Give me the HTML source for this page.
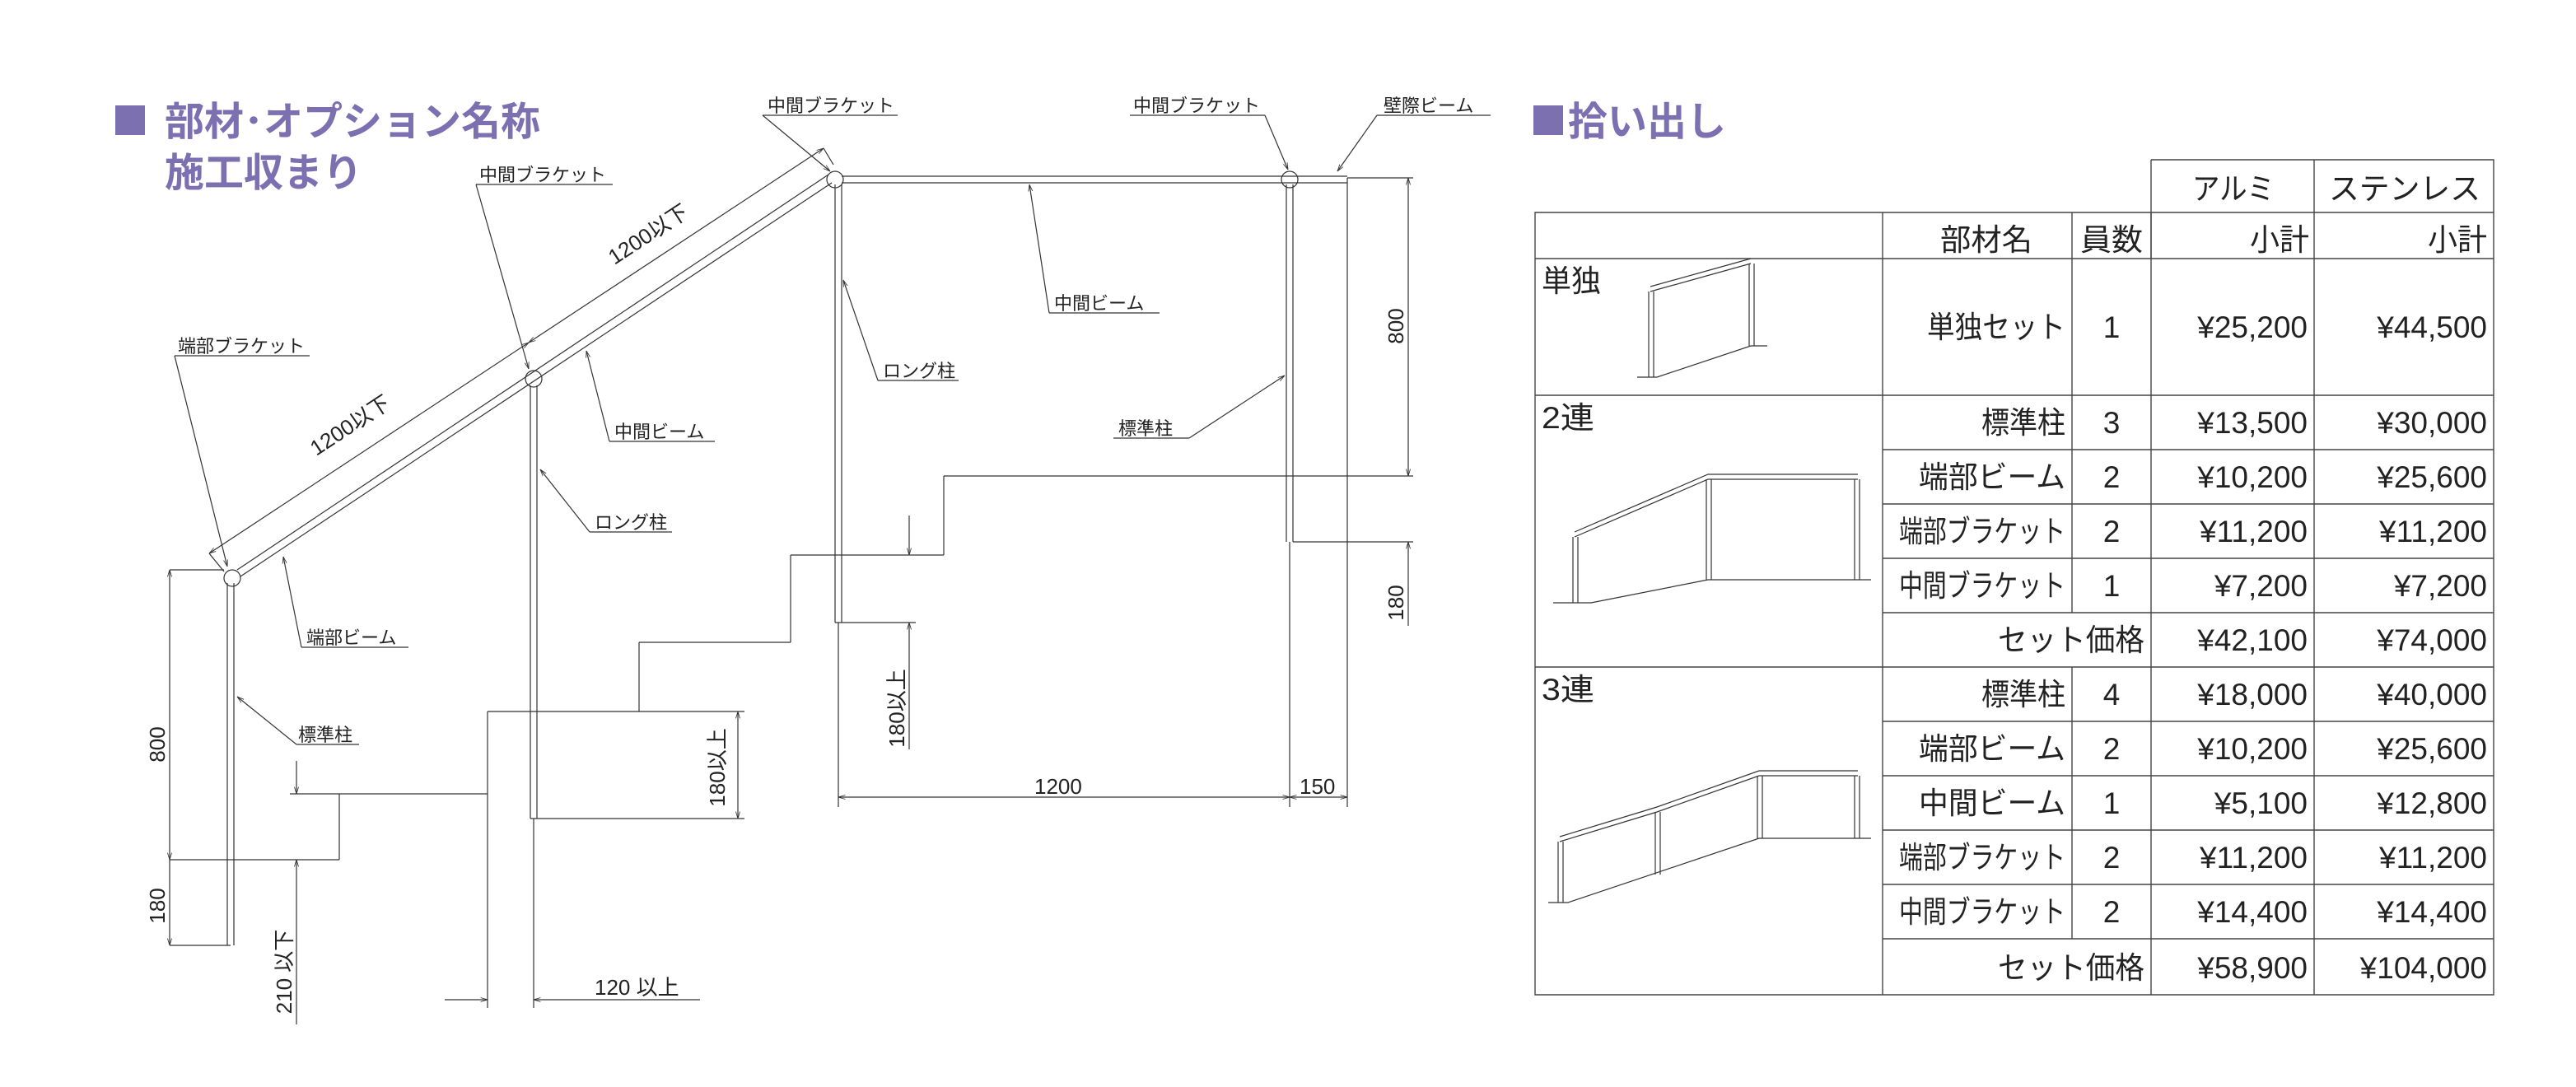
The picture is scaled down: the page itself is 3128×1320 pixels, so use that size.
<!DOCTYPE html>
<html><head><meta charset="utf-8"><style>
html,body{margin:0;padding:0;background:#fff;}
svg{display:block;}
text{font-family:"Liberation Sans","Noto Sans CJK JP",sans-serif;fill:#222;}
.l{stroke:#333;stroke-width:0.6;fill:none;}
.t{stroke:#444;stroke-width:0.7;fill:none;}
.lab{font-size:11px;}
.tb{font-size:18.5px;}
</style></head><body>
<svg width="3128" height="1320" viewBox="0 0 1564 660" xmlns="http://www.w3.org/2000/svg">
<defs>
<marker id="a" viewBox="0 0 10 10" refX="10" refY="5" markerWidth="7" markerHeight="7" orient="auto-start-reverse"><path d="M0,2 L10,5 L0,8" fill="none" stroke="#333" stroke-width="1"/></marker>
</defs>
<rect x="70" y="64" width="18" height="18" fill="#7c70b0"/>
<text x="100" y="82" style="font-size:24px;fill:#7c70b0;font-weight:bold">部材･オプション名称</text>
<text x="100" y="113" style="font-size:24px;fill:#7c70b0;font-weight:bold">施工収まり</text>
<rect x="931" y="64" width="18" height="18" fill="#7c70b0"/>
<text x="952" y="82" style="font-size:24px;fill:#7c70b0;font-weight:bold">拾い出し</text>

<g class="l">
<line x1="138" y1="354" x2="138" y2="574"/><line x1="142" y1="354" x2="142" y2="574"/>
<line x1="322" y1="234" x2="322" y2="497"/><line x1="326" y1="234" x2="326" y2="497"/>
<line x1="507" y1="112" x2="507" y2="378"/><line x1="511" y1="112" x2="511" y2="378"/>
<line x1="781" y1="112" x2="781" y2="329"/><line x1="785" y1="112" x2="785" y2="329"/>
<circle cx="141" cy="351" r="5"/><circle cx="324" cy="230" r="5"/><circle cx="507" cy="109" r="5"/><circle cx="783" cy="109" r="5"/>
<line x1="144" y1="346" x2="503" y2="106"/><line x1="146" y1="350" x2="505" y2="111"/>
<line x1="511" y1="107" x2="818" y2="107"/><line x1="511" y1="111" x2="818" y2="111"/>
<line x1="103" y1="522" x2="206" y2="522"/><line x1="206" y1="482" x2="206" y2="522"/>
<line x1="176" y1="482" x2="296" y2="482"/><line x1="296" y1="432" x2="296" y2="612"/>
<line x1="296" y1="432" x2="452" y2="432"/><line x1="388" y1="390" x2="388" y2="432"/>
<line x1="388" y1="390" x2="480" y2="390"/><line x1="480" y1="337" x2="480" y2="390"/>
<line x1="480" y1="337" x2="573" y2="337"/><line x1="573" y1="289" x2="573" y2="337"/>
<line x1="573" y1="289" x2="858" y2="289"/>
<line x1="322" y1="497" x2="452" y2="497"/><line x1="324" y1="497" x2="324" y2="612"/>
<line x1="507" y1="378" x2="556" y2="378"/><line x1="509" y1="378" x2="509" y2="490"/>
<line x1="785" y1="329" x2="858" y2="329"/><line x1="783" y1="329" x2="783" y2="490"/>
<line x1="818" y1="108" x2="818" y2="490"/>
<line x1="818" y1="108" x2="858" y2="108"/>
<line x1="103" y1="346" x2="136" y2="346"/><line x1="103" y1="574" x2="140" y2="574"/>
<line x1="103" y1="346" x2="103" y2="522" marker-start="url(#a)" marker-end="url(#a)"/>
<line x1="103" y1="522" x2="103" y2="574" marker-end="url(#a)"/>
<line x1="180" y1="462" x2="180" y2="482" marker-end="url(#a)"/>
<line x1="180" y1="522" x2="180" y2="622" marker-start="url(#a)"/>
<line x1="448" y1="432" x2="448" y2="497" marker-start="url(#a)" marker-end="url(#a)"/>
<line x1="552" y1="313" x2="552" y2="337" marker-end="url(#a)"/>
<line x1="552" y1="378" x2="552" y2="455" marker-start="url(#a)"/>
<line x1="270" y1="607" x2="296" y2="607" marker-end="url(#a)"/>
<line x1="324" y1="607" x2="425" y2="607" marker-start="url(#a)"/>
<line x1="855" y1="108" x2="855" y2="289" marker-start="url(#a)" marker-end="url(#a)"/>
<line x1="855" y1="329" x2="855" y2="380" marker-start="url(#a)"/>
<line x1="509" y1="484" x2="783" y2="484" marker-start="url(#a)" marker-end="url(#a)"/>
<line x1="783" y1="484" x2="818" y2="484" marker-start="url(#a)" marker-end="url(#a)"/>
<line x1="127" y1="336" x2="321" y2="208" marker-start="url(#a)" marker-end="url(#a)"/>
<line x1="321" y1="208" x2="500" y2="90" marker-start="url(#a)" marker-end="url(#a)"/>
<line x1="127" y1="336" x2="136" y2="347"/><line x1="500" y1="90" x2="506" y2="100"/>
<line x1="463" y1="70" x2="545" y2="70"/><line x1="463" y1="70" x2="504" y2="104" marker-end="url(#a)"/>
<line x1="686" y1="70" x2="768" y2="70"/><line x1="768" y1="70" x2="782" y2="103" marker-end="url(#a)"/>
<line x1="836" y1="70" x2="905" y2="70"/><line x1="836" y1="70" x2="812" y2="104" marker-end="url(#a)"/>
<line x1="289" y1="112" x2="372" y2="112"/><line x1="289" y1="112" x2="321" y2="224" marker-end="url(#a)"/>
<line x1="106" y1="216" x2="188" y2="216"/><line x1="106" y1="216" x2="138" y2="344" marker-end="url(#a)"/>
<line x1="637" y1="190" x2="704" y2="190"/><line x1="637" y1="190" x2="625" y2="112" marker-end="url(#a)"/>
<line x1="533" y1="231" x2="582" y2="231"/><line x1="533" y1="231" x2="512" y2="170" marker-end="url(#a)"/>
<line x1="370" y1="268" x2="434" y2="268"/><line x1="370" y1="268" x2="356" y2="213" marker-end="url(#a)"/>
<line x1="358" y1="323" x2="408" y2="323"/><line x1="358" y1="323" x2="328" y2="285" marker-end="url(#a)"/>
<line x1="676" y1="266" x2="722" y2="266"/><line x1="722" y1="266" x2="780" y2="228" marker-end="url(#a)"/>
<line x1="183" y1="393" x2="248" y2="393"/><line x1="183" y1="393" x2="172" y2="338" marker-end="url(#a)"/>
<line x1="180" y1="452" x2="218" y2="452"/><line x1="180" y1="452" x2="144" y2="423" marker-end="url(#a)"/>
</g>
<g class="lab">
<text x="466" y="68">中間ブラケット</text>
<text x="688" y="68">中間ブラケット</text>
<text x="840" y="68">壁際ビーム</text>
<text x="291" y="110">中間ブラケット</text>
<text x="108" y="214">端部ブラケット</text>
<text x="640" y="188">中間ビーム</text>
<text x="536" y="229">ロング柱</text>
<text x="373" y="266">中間ビーム</text>
<text x="361" y="321">ロング柱</text>
<text x="679" y="264">標準柱</text>
<text x="186" y="391">端部ビーム</text>
<text x="181" y="450">標準柱</text>
<text x="628" y="482" style="font-size:13px">1200</text>
<text x="789" y="482" style="font-size:13px">150</text>
<text x="361" y="604" style="font-size:13px">120 以上</text>
<text transform="translate(100,452) rotate(-90)" style="font-size:13px" text-anchor="middle">800</text>
<text transform="translate(100,550) rotate(-90)" style="font-size:13px" text-anchor="middle">180</text>
<text transform="translate(177,590) rotate(-90)" style="font-size:13px" text-anchor="middle">210 以下</text>
<text transform="translate(440,466) rotate(-90)" style="font-size:13px" text-anchor="middle">180以上</text>
<text transform="translate(549,430) rotate(-90)" style="font-size:13px" text-anchor="middle">180以上</text>
<text transform="translate(852,198) rotate(-90)" style="font-size:13px" text-anchor="middle">800</text>
<text transform="translate(852,366) rotate(-90)" style="font-size:13px" text-anchor="middle">180</text>
<text transform="translate(215,262) rotate(-33.3)" style="font-size:13px" text-anchor="middle">1200以下</text>
<text transform="translate(396,146) rotate(-33.3)" style="font-size:13px" text-anchor="middle">1200以下</text>
</g>

<g class="t">
<path d="M1306,97 H1514 V604 H932 V129 H1514 M1306,97 V157 M1405,97 V604"/>
<line x1="932" y1="157" x2="1514" y2="157"/>
<line x1="1143" y1="129" x2="1143" y2="604"/>
<line x1="1258" y1="129" x2="1258" y2="372"/>
<line x1="1258" y1="405" x2="1258" y2="570"/>
<line x1="1306" y1="129" x2="1306" y2="604"/>
<line x1="932" y1="240" x2="1514" y2="240"/>
<line x1="932" y1="405" x2="1514" y2="405"/>
<line x1="1143" y1="273" x2="1514" y2="273"/>
<line x1="1143" y1="306" x2="1514" y2="306"/>
<line x1="1143" y1="339" x2="1514" y2="339"/>
<line x1="1143" y1="372" x2="1514" y2="372"/>
<line x1="1143" y1="438" x2="1514" y2="438"/>
<line x1="1143" y1="471" x2="1514" y2="471"/>
<line x1="1143" y1="504" x2="1514" y2="504"/>
<line x1="1143" y1="537" x2="1514" y2="537"/>
<line x1="1143" y1="570" x2="1514" y2="570"/>
</g>
<g class="l" stroke-width="0.8">
<line x1="1001" y1="177" x2="1001" y2="229"/><line x1="1004" y1="177" x2="1004" y2="229"/>
<line x1="1062" y1="160" x2="1062" y2="210"/><line x1="1065" y1="160" x2="1065" y2="210"/>
<line x1="1002" y1="174" x2="1063" y2="157"/><line x1="1002" y1="177" x2="1063" y2="160"/>
<path d="M994,229 H1006 L1063,210 H1073"/>
<line x1="955" y1="326" x2="955" y2="366"/><line x1="958" y1="326" x2="958" y2="366"/>
<line x1="1036" y1="291" x2="1036" y2="352"/><line x1="1039" y1="291" x2="1039" y2="352"/>
<line x1="1126" y1="291" x2="1126" y2="352"/><line x1="1129" y1="291" x2="1129" y2="352"/>
<path d="M956,323 L1037,288 H1128 M956,326 L1037,291 H1128"/>
<path d="M943,366 H966 L1037,352 H1136"/>
<line x1="946" y1="511" x2="946" y2="548"/><line x1="949" y1="511" x2="949" y2="548"/>
<line x1="1005" y1="493" x2="1005" y2="531"/><line x1="1008" y1="493" x2="1008" y2="531"/>
<line x1="1067" y1="471" x2="1067" y2="509"/><line x1="1070" y1="471" x2="1070" y2="509"/>
<line x1="1126" y1="471" x2="1126" y2="509"/><line x1="1129" y1="471" x2="1129" y2="509"/>
<path d="M947,508 L1006,490 L1068,468 H1128 M947,511 L1006,493 L1068,471 H1128"/>
<path d="M940,548 H952 L1068,509 H1136"/>
</g>
<g class="tb">
<text x="1331" y="121" textLength="50" lengthAdjust="spacingAndGlyphs">アルミ</text>
<text x="1414" y="121" textLength="92" lengthAdjust="spacingAndGlyphs">ステンレス</text>
<text x="1178" y="152" textLength="56" lengthAdjust="spacingAndGlyphs">部材名</text>
<text x="1263" y="152" textLength="38" lengthAdjust="spacingAndGlyphs">員数</text>
<text x="1366" y="152" textLength="36" lengthAdjust="spacingAndGlyphs">小計</text>
<text x="1474" y="152" textLength="36" lengthAdjust="spacingAndGlyphs">小計</text>
<text x="936" y="177" textLength="36" lengthAdjust="spacingAndGlyphs">単独</text>
<text x="936" y="260" textLength="32" lengthAdjust="spacingAndGlyphs">2連</text>
<text x="936" y="425" textLength="32" lengthAdjust="spacingAndGlyphs">3連</text>

<text x="1170" y="205" textLength="84" lengthAdjust="spacingAndGlyphs">単独セット</text><text x="1282" y="205" text-anchor="middle">1</text><text x="1401" y="205" text-anchor="end">¥25,200</text><text x="1510" y="205" text-anchor="end">¥44,500</text>
<text x="1203" y="263" textLength="51" lengthAdjust="spacingAndGlyphs">標準柱</text><text x="1282" y="263" text-anchor="middle">3</text><text x="1401" y="263" text-anchor="end">¥13,500</text><text x="1510" y="263" text-anchor="end">¥30,000</text>
<text x="1165" y="296" textLength="89" lengthAdjust="spacingAndGlyphs">端部ビーム</text><text x="1282" y="296" text-anchor="middle">2</text><text x="1401" y="296" text-anchor="end">¥10,200</text><text x="1510" y="296" text-anchor="end">¥25,600</text>
<text x="1153" y="329" textLength="101" lengthAdjust="spacingAndGlyphs">端部ブラケット</text><text x="1282" y="329" text-anchor="middle">2</text><text x="1401" y="329" text-anchor="end">¥11,200</text><text x="1510" y="329" text-anchor="end">¥11,200</text>
<text x="1153" y="362" textLength="101" lengthAdjust="spacingAndGlyphs">中間ブラケット</text><text x="1282" y="362" text-anchor="middle">1</text><text x="1401" y="362" text-anchor="end">¥7,200</text><text x="1510" y="362" text-anchor="end">¥7,200</text>
<text x="1213" y="395" textLength="89" lengthAdjust="spacingAndGlyphs">セット価格</text><text x="1401" y="395" text-anchor="end">¥42,100</text><text x="1510" y="395" text-anchor="end">¥74,000</text>
<text x="1203" y="428" textLength="51" lengthAdjust="spacingAndGlyphs">標準柱</text><text x="1282" y="428" text-anchor="middle">4</text><text x="1401" y="428" text-anchor="end">¥18,000</text><text x="1510" y="428" text-anchor="end">¥40,000</text>
<text x="1165" y="461" textLength="89" lengthAdjust="spacingAndGlyphs">端部ビーム</text><text x="1282" y="461" text-anchor="middle">2</text><text x="1401" y="461" text-anchor="end">¥10,200</text><text x="1510" y="461" text-anchor="end">¥25,600</text>
<text x="1165" y="494" textLength="89" lengthAdjust="spacingAndGlyphs">中間ビーム</text><text x="1282" y="494" text-anchor="middle">1</text><text x="1401" y="494" text-anchor="end">¥5,100</text><text x="1510" y="494" text-anchor="end">¥12,800</text>
<text x="1153" y="527" textLength="101" lengthAdjust="spacingAndGlyphs">端部ブラケット</text><text x="1282" y="527" text-anchor="middle">2</text><text x="1401" y="527" text-anchor="end">¥11,200</text><text x="1510" y="527" text-anchor="end">¥11,200</text>
<text x="1153" y="560" textLength="101" lengthAdjust="spacingAndGlyphs">中間ブラケット</text><text x="1282" y="560" text-anchor="middle">2</text><text x="1401" y="560" text-anchor="end">¥14,400</text><text x="1510" y="560" text-anchor="end">¥14,400</text>
<text x="1213" y="594" textLength="89" lengthAdjust="spacingAndGlyphs">セット価格</text><text x="1401" y="594" text-anchor="end">¥58,900</text><text x="1510" y="594" text-anchor="end">¥104,000</text>
</g>
</svg>
</body></html>
